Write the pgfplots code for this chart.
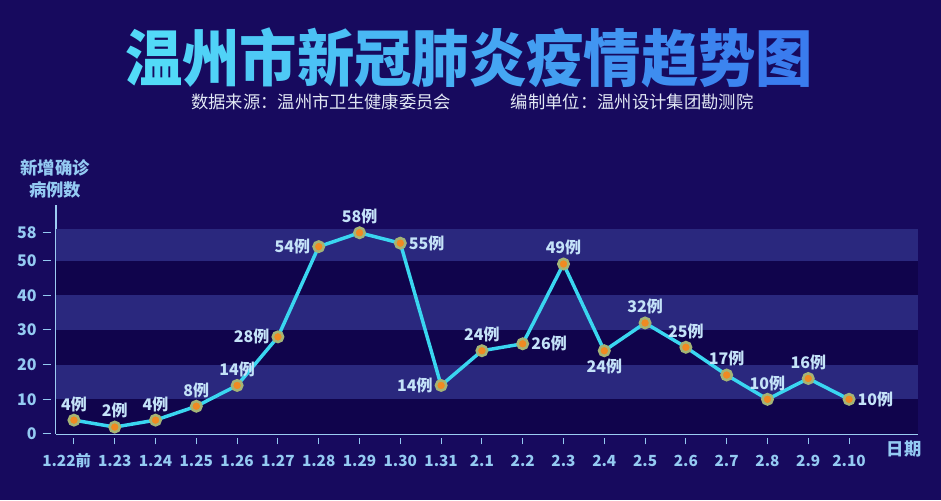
\documentclass[border=0pt]{standalone}
\usepackage{fontspec}
\setmainfont{Noto Sans CJK SC}
\usepackage{graphicx}
\usepackage{pgfplots}
\usepackage{pgfplotstable}
\pgfplotsset{compat=1.18}

\definecolor{bg}{HTML}{170A5E}
\definecolor{darkband}{HTML}{10044C}
\definecolor{band}{HTML}{2A287E}
\definecolor{cyanline}{HTML}{3AD6F0}
\definecolor{ring}{HTML}{A4B476}
\definecolor{dot}{HTML}{F08A22}
\definecolor{ticktext}{HTML}{94CAF2}
\definecolor{labeltext}{HTML}{C4E2F8}
\definecolor{axisline}{HTML}{9CCCF2}
\definecolor{subtext}{HTML}{E2E8F4}
\definecolor{tl}{HTML}{52DAF8}
\definecolor{tr}{HTML}{3A7CEE}

% daily new cases, label anchor per point
\pgfplotstableread{
x y anc
0 4 south
1 2 south
2 4 south
3 8 south
4 14 south
5 28 east
6 54 east
7 58 south
8 55 west
9 14 east
10 24 south
11 26 west
12 49 south
13 24 north
14 32 south
15 25 south
16 17 south
17 10 south
18 16 south
19 10 west
}\newcases

\newcommand\xt[1]{\rule{0.8pt}{4.5pt}\\[2.5pt]#1}
\newcommand\tc[2]{{\color{tr!#1!tl}#2}}

\begin{document}%
\begin{tikzpicture}
  % canvas in pixel units (941 x 500)
  \begin{scope}[yshift=375pt, x=0.75pt, y=-0.75pt]
    \fill[bg] (0,0) rectangle (941,500);
    \node[font=\fontsize{43pt}{50pt}\selectfont\bfseries, inner sep=0pt] at (469,58)
      {\scalebox{1}[1.08]{\tc{0}{温}\tc{9}{州}\tc{18}{市}\tc{27}{新}\tc{36}{冠}\tc{45}{肺}\tc{55}{炎}\tc{64}{疫}\tc{73}{情}\tc{82}{趋}\tc{91}{势}\tc{100}{图}}};
    \node[text=subtext, font=\fontsize{13pt}{15pt}\selectfont] at (321,102) {数据来源：温州市卫生健康委员会};
    \node[text=subtext, font=\fontsize{13pt}{15pt}\selectfont] at (632,102) {编制单位：温州设计集团勘测院};
    \node[text=ticktext, font=\fontsize{13pt}{16pt}\selectfont\bfseries, align=center] at (55,179) {新增确诊\\病例数};
    \node[text=ticktext, font=\fontsize{13pt}{15pt}\selectfont\bfseries] at (904,449) {日期};
  \end{scope}

  \begin{axis}[
    at={(42pt,49.5pt)}, anchor=south west,
    scale only axis,
    width=646.5pt, height=171.75pt,
    xmin=-0.44, xmax=20.69,
    ymin=0, ymax=66,
    axis x line=bottom, axis y line=left,
    axis line style={-, axisline, line width=1.4pt},
    major tick length=0pt,
    /pgf/number format/assume math mode=true,
    xtick={0,...,19},
    xticklabels={\xt{\hspace*{-11pt}1.22前},\xt{1.23},\xt{1.24},\xt{1.25},\xt{1.26},\xt{1.27},\xt{1.28},\xt{1.29},\xt{1.30},\xt{1.31},
                 \xt{2.1},\xt{2.2},\xt{2.3},\xt{2.4},\xt{2.5},\xt{2.6},\xt{2.7},\xt{2.8},\xt{2.9},\xt{2.10}},
    xticklabel style={anchor=north, inner sep=0pt, yshift=-3pt, align=center,
      font=\fontsize{11.5pt}{14pt}\selectfont\bfseries, text=ticktext},
    ytick={0,10,20,30,40,50,58},
    yticklabel={\pgfmathprintnumber{\tick}\hspace{4.5pt}\rule[4pt]{6pt}{0.8pt}},
    yticklabel style={anchor=east, inner sep=0pt, xshift=-3.75pt,
      font=\fontsize{12pt}{14pt}\selectfont\bfseries, text=ticktext},
    clip=false,
  ]
    \fill[darkband] (axis cs:-0.44,0) rectangle (axis cs:20.69,50);
    \fill[band] (axis cs:-0.44,10) rectangle (axis cs:20.69,20);
    \fill[band] (axis cs:-0.44,30) rectangle (axis cs:20.69,40);
    \fill[band] (axis cs:-0.44,50) rectangle (axis cs:20.69,59);

    \addplot[cyanline, line width=2.6pt, mark=*, mark size=3.9pt,
      mark options={fill=dot, draw=ring, line width=1.9pt},
      point meta=explicit symbolic,
      nodes near coords={\pgfmathprintnumber{\pgfkeysvalueof{/data point/y}}例},
      nodes near coords style={anchor=\pgfplotspointmeta, inner sep=5.5pt, text=labeltext,
        font=\fontsize{12pt}{14pt}\selectfont\bfseries},
    ] table[x=x, y=y, meta=anc] {\newcases};
  \end{axis}
\end{tikzpicture}
\end{document}
